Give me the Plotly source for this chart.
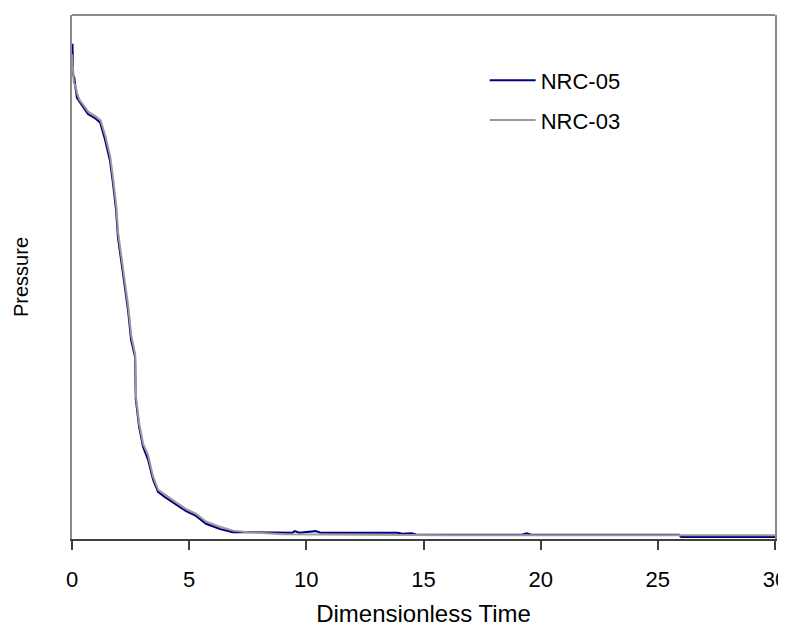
import plotly.graph_objects as go

# NRC-05 (navy)
t_nrc05 = [0, 0.02, 0.05, 0.10, 0.16, 0.21, 0.30, 0.47, 0.68, 0.98, 1.20, 1.41, 1.62, 1.75,
           1.88, 1.96, 2.09, 2.26, 2.39, 2.52, 2.66, 2.69, 2.72, 2.86, 3.03, 3.24, 3.46, 3.67,
           3.97, 4.40, 4.87, 5.29, 5.72, 6.32, 6.87, 7.50, 9.40, 9.50, 9.70, 10.4, 10.6, 11.0,
           13.9, 14.1, 14.5, 14.7, 15.0, 19.2, 19.4, 19.6, 25.9, 26.0, 30.0]
p_nrc05 = [0.930, 0.945, 0.885, 0.880, 0.858, 0.842, 0.836, 0.824, 0.811, 0.803, 0.795, 0.762,
           0.722, 0.678, 0.628, 0.576, 0.532, 0.482, 0.437, 0.380, 0.353, 0.348, 0.268, 0.215,
           0.176, 0.152, 0.113, 0.090, 0.080, 0.067, 0.053, 0.044, 0.029, 0.019, 0.013, 0.013,
           0.012, 0.015, 0.012, 0.015, 0.012, 0.012, 0.012, 0.010, 0.011, 0.008, 0.008, 0.008,
           0.011, 0.008, 0.008, 0.004, 0.004]

# NRC-03 (gray)
t_nrc03 = [0, 0.03, 0.08, 0.15, 0.22, 0.32, 0.50, 0.70, 1.00, 1.22, 1.43, 1.63, 1.76, 1.89,
           1.97, 2.10, 2.27, 2.40, 2.53, 2.67, 2.70, 2.73, 2.87, 3.04, 3.25, 3.35, 3.47, 3.68,
           3.98, 4.41, 4.88, 5.30, 5.73, 6.33, 6.88, 7.50, 9.00, 12.0, 16.0, 20.0, 26.0, 30.0]
p_nrc03 = [0.925, 0.900, 0.870, 0.865, 0.850, 0.838, 0.828, 0.815, 0.807, 0.799, 0.768, 0.730,
           0.686, 0.636, 0.584, 0.540, 0.488, 0.444, 0.388, 0.357, 0.352, 0.272, 0.220, 0.181,
           0.160, 0.140, 0.118, 0.094, 0.084, 0.071, 0.057, 0.048, 0.033, 0.023, 0.016, 0.013,
           0.009, 0.008, 0.007, 0.007, 0.007, 0.007]

x_ticks = [0, 5, 10, 15, 20, 25, 30]

FONT = "Liberation Sans, Arial, sans-serif"

fig = go.Figure()
fig.add_trace(go.Scatter(x=t_nrc05, y=p_nrc05, mode="lines", name="NRC-05",
                         line=dict(color="#000080", width=2), legendgroup="a"))
fig.add_trace(go.Scatter(x=t_nrc03, y=p_nrc03, mode="lines", name="NRC-03",
                         line=dict(color="#9a9a9a", width=2), legendgroup="b"))

fig.update_layout(
    width=786, height=629,
    margin=dict(l=64, r=19, t=7, b=98),
    paper_bgcolor="white", plot_bgcolor="white",
    font=dict(family=FONT, size=22, color="black"),
    showlegend=True,
    legend=dict(x=0.587, y=0.915, xanchor="left", yanchor="top",
                bgcolor="rgba(0,0,0,0)", tracegroupgap=8,
                font=dict(size=22), itemwidth=46),
    xaxis=dict(range=[0, 30], tickvals=x_ticks, ticks="outside", ticklen=9,
               tickwidth=1.5, tickcolor="#404040", showline=True, linecolor="#404040",
               linewidth=2, showgrid=False, zeroline=False,
               ticklabelstandoff=11,
               title=dict(text="Dimensionless Time", standoff=14, font=dict(size=24)),
               tickfont=dict(size=22)),
    yaxis=dict(range=[0, 1], showticklabels=False, ticks="", showline=True,
               linecolor="#8a8a8a", linewidth=2, mirror=True, showgrid=False,
               zeroline=False, title=dict(text="Pressure", standoff=36, font=dict(size=20))),
    shapes=[dict(type="line", xref="paper", yref="paper", x0=0, x1=1, y0=1, y1=1,
                 line=dict(color="#8a8a8a", width=2))],
)

fig.write_html("out.html")
